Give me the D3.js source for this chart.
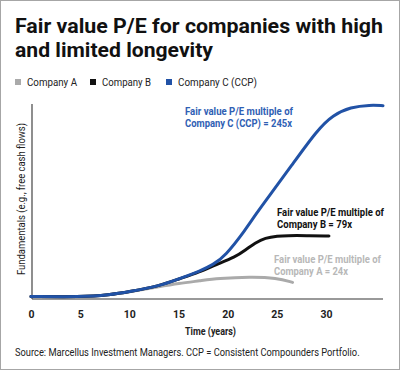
<!DOCTYPE html>
<html>
<head>
<meta charset="utf-8">
<script src="https://cdn.jsdelivr.net/npm/d3@7"></script>
<style>
  body { margin: 0; background: #fff; }
  svg text { font-family: Roboto, "Liberation Sans", sans-serif; }
</style>
</head>
<body>
<div id="chart"></div>
<script>
const yearsA = [0, 5, 8, 10, 13, 15, 17.2, 19, 22.3, 25, 26.6]
const companyA = [0.3, 0, 1, 2.7, 5.3, 7.0, 8.3, 9.5, 10.4, 9.8, 7.5]

const yearsB = [0, 5, 8, 10, 13, 15, 17.2, 18.7, 20.8, 21.8, 22.8, 23.8, 25.1, 26, 28, 30.3]
const companyB = [0.3, 0, 1, 2.7, 5.6, 9.2, 13.0, 16.4, 20.5, 24.1, 27.7, 30.3, 31.3, 31.5, 31.5, 31.3]

const yearsC = [0, 5, 8, 10, 13, 15, 17.2, 18.5, 19.75, 21.8, 22.8, 24.3, 26.4, 29.1, 30.7, 32.5, 34.5, 35.8]
const companyC = [0.3, 0, 1, 2.7, 5.6, 9.2, 13.3, 16.5, 21, 34.4, 42, 52.3, 66.7, 85.6, 93.3, 97.4, 98.5, 98.1]

const xTicks = [0, 5, 10, 15, 20, 25, 30]
const legendLabels = ["Company A", "Company B", "Company C (CCP)"]
const colors = ["#aaaaaa", "#111111", "#2152a6"]

const width = 400
const height = 370

const svg = d3.select("#chart")
  .append("svg")
    .attr("width", width)
    .attr("height", height)

// squeeze text to the narrow look of the original
function fit(sel, w) {
  sel.attr("textLength", w).attr("lengthAdjust", "spacingAndGlyphs")
}

function addText(x, y, str, size, weight, color, w) {
  const t = svg.append("text")
    .attr("x", x).attr("y", y)
    .attr("font-size", size)
    .attr("font-weight", weight)
    .attr("fill", color)
    .text(str)
  if (w) fit(t, w)
  return t
}

// frame
svg.append("rect")
  .attr("x", 0.5).attr("y", 0.5)
  .attr("width", width - 1).attr("height", height - 1)
  .attr("fill", "none")
  .attr("stroke", "#a6a6a6")

// title
addText(15, 33, "Fair value P/E for companies with high", 21, "bold", "#111", 368)
addText(15, 57, "and limited longevity", 21, "bold", "#111", 198)

// legend
const legendX = [15, 90, 166]
const legendW = [50, 49, 79]
legendLabels.forEach((label, i) => {
  svg.append("rect")
    .attr("x", legendX[i]).attr("y", 79)
    .attr("width", 6).attr("height", 6)
    .attr("fill", colors[i])
  addText(legendX[i] + 12, 86, label, 11.5, "normal", "#222", legendW[i])
})

// scales
const x = d3.scaleLinear().domain([0, 36]).range([31, 385])
const y = d3.scaleLinear().domain([0, 100]).range([297, 102])

// x axis
const xAxis = svg.append("g")
  .attr("transform", "translate(0,299)")
  .call(d3.axisBottom(x).tickValues(xTicks).tickSize(0).tickPadding(12))
xAxis.select(".domain")
  .attr("stroke", "#999")
  .attr("stroke-width", 2)
  .attr("d", "M32,0H383")
xAxis.selectAll("text")
  .attr("font-size", 10.5)
  .attr("font-weight", "bold")
  .attr("fill", "#222")
  .style("font-family", "Roboto, sans-serif")

// y axis line
svg.append("line")
  .attr("x1", 32).attr("x2", 32)
  .attr("y1", 104).attr("y2", 299)
  .attr("stroke", "#444")
  .attr("stroke-width", 1.2)

const yLabel = svg.append("text")
  .attr("transform", "translate(25,199) rotate(-90)")
  .attr("text-anchor", "middle")
  .attr("font-size", 11)
  .attr("fill", "#222")
  .text("Fundamentals (e.g., free cash flows)")
fit(yLabel, 152)

addText(185, 335, "Time (years)", 11, "bold", "#222", 51)

// lines
const line = d3.line()
  .x(d => x(d[0]))
  .y(d => y(d[1]))
  .curve(d3.curveBasis)

const series = [
  d3.zip(yearsA, companyA),
  d3.zip(yearsB, companyB),
  d3.zip(yearsC, companyC)
]
series.forEach((s, i) => {
  svg.append("path")
    .datum(s)
    .attr("d", line)
    .attr("fill", "none")
    .attr("stroke", colors[i])
    .attr("stroke-width", 3)
    .attr("stroke-linecap", "round")
})

// annotations
const notes = [
  {x: 185, y: 115, color: "#2f60b4", lines: ["Fair value P/E multiple of", "Company C (CCP) = 245x"], w: [108, 107]},
  {x: 277, y: 216, color: "#111", lines: ["Fair value P/E multiple of", "Company B = 79x"], w: [107, 75]},
  {x: 274, y: 263, color: "#b8b8b8", lines: ["Fair value P/E multiple of", "Company A = 24x"], w: [107, 74]}
]
notes.forEach(n => {
  n.lines.forEach((l, j) => {
    addText(n.x, n.y + j * 11.5, l, 11, "bold", n.color, n.w[j])
  })
})

// source, squeezed with a scale so it keeps inside the frame
const source = svg.append("text")
  .attr("font-size", 11.5)
  .attr("fill", "#222")
  .text("Source: Marcellus Investment Managers. CCP = Consistent Compounders Portfolio.")
const srcW = source.node().getComputedTextLength()
source.attr("transform", `translate(15,356) scale(${345 / srcW},1)`)
</script>
</body>
</html>
